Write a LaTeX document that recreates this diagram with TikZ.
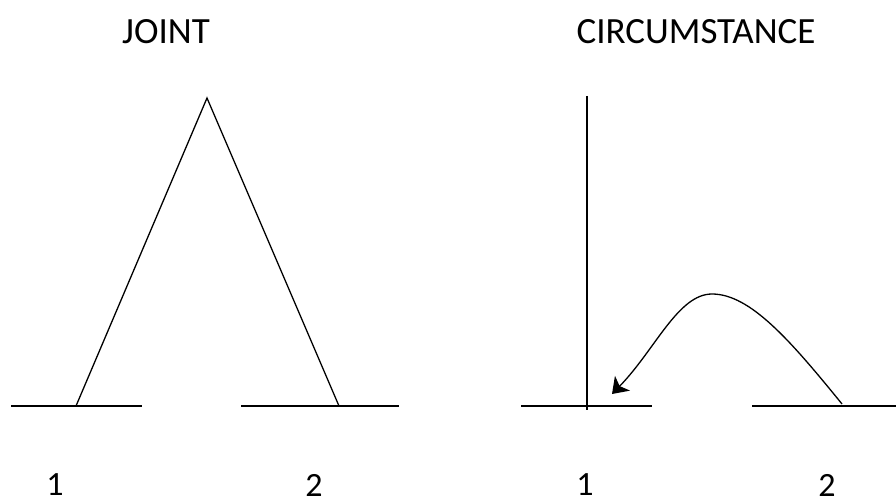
\documentclass[tikz,border=0pt]{standalone}
\usepackage{fontspec}
\setmainfont{Carlito}
\usepackage{tikz}
\usetikzlibrary{arrows.meta}

\begin{document}
\begin{tikzpicture}[x=1pt,y=-1pt,
    title/.style={font=\fontsize{37}{42}\selectfont,inner sep=0pt},
    digit/.style={font=\fontsize{34}{40}\selectfont,inner sep=0pt},
    base/.style={line width=1.6pt},
    leg/.style={line width=1.3pt},
    tip/.style={-{Stealth[length=15pt,width=21pt,inset=4pt]}}]
  \useasboundingbox (0,0) rectangle (896,500);

  % left: joint
  \node[title] (joint) at (166,32) {JOINT};
  \coordinate (apex) at (207,98);
  \coordinate (jfootA) at (76,406);
  \coordinate (jfootB) at (339,406);
  \draw[base] (11,406) -- (142,406);
  \draw[base] (241,406) -- (399,406);
  \draw[leg] (jfootA) -- (apex) -- (jfootB);
  \node[digit] (jone) at (55,485) {1};
  \node[digit] (jtwo) at (314,485) {2};

  % right: circumstance
  \node[title] (circ) at (696,32) {CIRCUMSTANCE};
  \coordinate (ctop) at (587,96);
  \coordinate (cfootA) at (587,410);
  \coordinate (cfootB) at (842,404);
  \coordinate (cpeak) at (712,294);
  \coordinate (ctip) at (612,394);
  \draw[base] (521,406) -- (652,406);
  \draw[base] (752,406) -- (896,406);
  \draw[leg] (ctop) -- (cfootA);
  \draw[leg,tip] (cfootB)
    .. controls (790,340) and (750,294) .. (cpeak)
    .. controls (678,294) and (655,350) .. (ctip);
  \node[digit] (cone) at (585,485) {1};
  \node[digit] (ctwo) at (827,485) {2};
\end{tikzpicture}
\end{document}
